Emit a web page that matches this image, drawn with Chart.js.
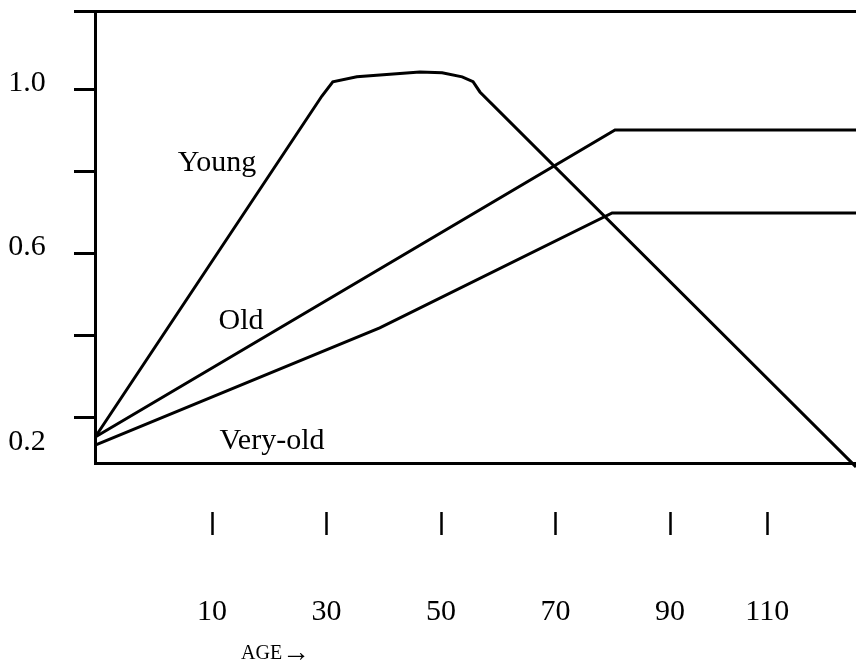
<!DOCTYPE html>
<html>
<head>
<meta charset="utf-8">
<script src="https://cdn.jsdelivr.net/npm/chart.js@4"></script>
<style>
  body { margin: 0; background: #fff; }
  canvas { display: block; }
</style>
</head>
<body>
<canvas id="chart" width="856" height="664"></canvas>
<script>
// values (x = age, y = membership)
const youngAges = [-10.4, 29.2, 31.1, 35.3, 46.3, 50.2, 53.7, 55.6, 56.8, 122.5];
const youngValues = [0.151, 0.985, 1.02, 1.032, 1.044, 1.042, 1.032, 1.02, 0.995, 0.078];
const oldAges = [-10.4, 80.4, 122.5];
const oldValues = [0.151, 0.902, 0.902];
const veryOldAges = [-10.4, 39.3, 79.9, 122.5];
const veryOldValues = [0.131, 0.418, 0.699, 0.699];

const xTickValues = [10, 30, 50, 70, 90, 107];
const xTickLabels = ["10", "30", "50", "70", "90", "110"];
const yTickValues = [0.2, 0.4, 0.6, 0.8, 1.0];
const yLabelValues = [1.0, 0.6, 0.2];

const xMin = -10.44, xMax = 122.5;
const yMin = 0.0875, yMax = 1.193;

const SERIF = "'Liberation Serif', 'DejaVu Serif', serif";

function points(xs, ys) {
  return xs.map((x, i) => ({ x: x, y: ys[i] }));
}

function lineSet(label, xs, ys) {
  return {
    label: label,
    data: points(xs, ys),
    borderColor: "#000",
    borderWidth: 3,
    pointRadius: 0,
    tension: 0,
    fill: false,
    clip: false,
  };
}

// text that is not tied to a tick: y labels, curve names, axis title
const textPlugin = {
  id: "texts",
  afterDraw(chart) {
    const ctx = chart.ctx;
    const x = chart.scales.x;
    const y = chart.scales.y;
    ctx.save();
    ctx.fillStyle = "#000";
    ctx.strokeStyle = "#000";
    ctx.textAlign = "center";
    ctx.textBaseline = "middle";
    ctx.font = "30px " + SERIF;
    const offsets = [-7, -6, 25]; // labels sit a little off their tick marks
    yLabelValues.forEach((v, i) => {
      ctx.fillText(v.toFixed(1), 27, y.getPixelForValue(v) + offsets[i]);
    });
    ctx.fillText("Young", 217, 163);
    ctx.fillText("Old", 241, 321);
    ctx.fillText("Very-old", 272, 441);

    ctx.textAlign = "left";
    ctx.textBaseline = "alphabetic";
    ctx.font = "20px " + SERIF;
    ctx.fillText("AGE", 241, 659);
    ctx.font = "28px " + SERIF;
    ctx.fillText("\u2192", 282, 661);

    // the "|" marks floating under the axis
    ctx.lineWidth = 2.5;
    xTickValues.forEach((v) => {
      const px = Math.round(x.getPixelForValue(v)) + 0.5;
      ctx.beginPath();
      ctx.moveTo(px, 512);
      ctx.lineTo(px, 535);
      ctx.stroke();
    });
    ctx.restore();
  },
};

new Chart(document.getElementById("chart"), {
  type: "line",
  data: {
    datasets: [
      lineSet("Young", youngAges, youngValues),
      lineSet("Old", oldAges, oldValues),
      lineSet("Very-old", veryOldAges, veryOldValues),
    ],
  },
  options: {
    responsive: false,
    animation: false,
    devicePixelRatio: 1,
    layout: { padding: 0 },
    plugins: {
      legend: { display: false },
      tooltip: { enabled: false },
    },
    scales: {
      x: {
        type: "linear",
        position: "bottom",
        min: xMin,
        max: xMax,
        afterBuildTicks: (scale) => {
          scale.ticks = xTickValues.map((v) => ({ value: v }));
        },
        afterFit: (scale) => {
          scale.height = 201;
          scale.paddingLeft = 0;
          scale.paddingRight = 0;
        },
        ticks: {
          autoSkip: false,
          maxRotation: 0,
          padding: 131,
          color: "#000",
          font: { family: SERIF, size: 30, lineHeight: 1.2 },
          callback: (value, index) => xTickLabels[index],
        },
        grid: { drawOnChartArea: false, drawTicks: false },
        border: { display: true, color: "#000", width: 3 },
      },
      x2: {
        type: "linear",
        position: "top",
        min: xMin,
        max: xMax,
        afterFit: (scale) => {
          scale.height = 11;
          scale.paddingLeft = 0;
          scale.paddingRight = 0;
        },
        ticks: { display: false },
        grid: { drawOnChartArea: false, drawTicks: false },
        border: { display: true, color: "#000", width: 3 },
      },
      y: {
        type: "linear",
        position: "left",
        min: yMin,
        max: yMax,
        afterBuildTicks: (scale) => {
          scale.ticks = yTickValues.concat([yMax]).map((v) => ({ value: v }));
        },
        afterFit: (scale) => {
          scale.width = 95;
        },
        ticks: { display: false },
        grid: {
          drawOnChartArea: false,
          drawTicks: true,
          tickLength: 21,
          color: "#000",
          lineWidth: 3,
        },
        border: { display: true, color: "#000", width: 3 },
      },
    },
  },
  plugins: [textPlugin],
});
</script>
</body>
</html>
